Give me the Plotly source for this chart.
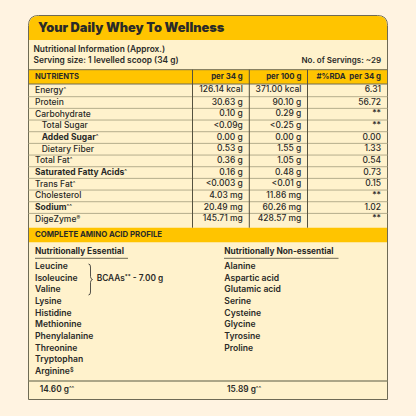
import plotly.graph_objects as go

title = "Your Daily Whey To Wellness"
info_lines = ["Nutritional Information (Approx.)", "Serving size: 1 levelled scoop (34 g)"]
servings = "No. of Servings: ~29"
col_headers = ["NUTRIENTS", "per 34 g", "per 100 g", "#%RDA  per 34 g"]
nutrients = ["Energy^", "Protein", "Carbohydrate", "Total Sugar", "Added Sugar^", "Dietary Fiber", "Total Fat^",
             "Saturated Fatty Acids^", "Trans Fat^", "Cholesterol", "Sodium^^", "DigeZyme®"]
per_34 = ["126.14 kcal", "30.63 g", "0.10 g", "<0.09g", "0.00 g", "0.53 g", "0.36 g", "0.16 g", "<0.003 g",
          "4.03 mg", "20.49 mg", "145.71 mg"]
per_100 = ["371.00 kcal", "90.10 g", "0.29 g", "<0.25 g", "0.00 g", "1.55 g", "1.05 g", "0.48 g", "<0.01 g",
           "11.86 mg", "60.26 mg", "428.57 mg"]
rda = ["6.31", "56.72", "**", "**", "0.00", "1.33", "0.54", "0.73", "0.15", "**", "1.02", "**"]
indented = {"Total Sugar", "Added Sugar^", "Dietary Fiber"}
strong = {"Added Sugar^", "Saturated Fatty Acids^", "Sodium^^"}
amino_title = "COMPLETE AMINO ACID PROFILE"
essential_title = "Nutritionally Essential"
nonessential_title = "Nutritionally Non-essential"
essential = ["Leucine", "Isoleucine", "Valine", "Lysine", "Histidine", "Methionine", "Phenylalanine", "Threonine",
             "Tryptophan", "Arginine$"]
nonessential = ["Alanine", "Aspartic acid", "Glutamic acid", "Serine", "Cysteine", "Glycine", "Tyrosine", "Proline"]
bcaa = "BCAAs** - 7.00 g"
totals = ["14.60 g^^", "15.89 g^^"]

BG, CARD, BAND, INK, EDGE, RULE = "#FFF3E1", "#FFF2CC", "#FFC400", "#2A2A28", "#6E6A55", "#B5AD8C"
FONT = "Inter"
L, R, T, B = 28.5, 387.5, 15.5, 399.5
HEAD_B = 40
BAND1_T, BAND1_B = 69.7, 84
ROW1_B, ROW_H = 96.7, 11.67
BAND2_T, BAND2_B = 227.7, 242.3
VX = [192.5, 249.3, 307.5]
COLX = [242.8, 301.4, 381]
LIST_Y0, LIST_H = 266.7, 11.67
LIST_X = [35, 224.3]


def raised(mark):
    return f'<span style="font-size:5.5px;baseline-shift:2.2px">{mark}</span>'


def sup(s):
    for mark in ("^^", "^", "**", "$", "®"):
        if s.endswith(mark):
            return s[:-len(mark)] + raised(mark)
    return s.replace("BCAAs**", "BCAAs" + raised("**"))


def rect(x0, y0, x1, y1, fill):
    return dict(type="rect", x0=x0, y0=y0, x1=x1, y1=y1, fillcolor=fill, line_width=0, layer="below")


def line(x0, y0, x1, y1, color=RULE, w=1):
    return dict(type="line", x0=x0, y0=y0, x1=x1, y1=y1, line=dict(color=color, width=w), layer="below")


r = 10
shapes = [
    dict(type="path", layer="below", fillcolor=CARD, line=dict(color=EDGE, width=1),
         path=f"M{L},{B} L{L},{T+r} Q{L},{T} {L+r},{T} L{R-r},{T} Q{R},{T} {R},{T+r} L{R},{B} Z"),
    dict(type="path", layer="below", fillcolor=BAND, line_width=0,
         path=f"M{L+.5},{HEAD_B} L{L+.5},{T+r} Q{L+.5},{T+.5} {L+r},{T+.5} L{R-r},{T+.5} Q{R-.5},{T+.5} {R-.5},{T+r} L{R-.5},{HEAD_B} Z"),
    rect(L + .5, BAND1_T, R - .5, BAND1_B, BAND),
    rect(L + .5, BAND2_T, R - .5, BAND2_B, BAND),
]
rows_top = [BAND1_B] + [ROW1_B + i * ROW_H for i in range(len(nutrients))]
for y in rows_top[1:-1]:
    shapes.append(line(L, y, R, y))
shapes.append(line(L, BAND1_T, R, BAND1_T, EDGE))
shapes.append(line(L, BAND1_B, R, BAND1_B, EDGE))
for x in VX:
    shapes.append(line(x, BAND1_T, x, BAND2_T, "#55523F"))
shapes += [line(35, 258.3, 128, 258.3, EDGE), line(224, 258.3, 338.5, 258.3, EDGE),
           line(L, 381, R, 381, "#918C70", 1.5),
           dict(type="path", layer="below", line=dict(color=INK, width=0.8),
                path="M88.5,264 Q90.5,264 90.5,267 L90.5,276.5 Q90.5,279 92.5,279.5 Q90.5,280 90.5,282.5 L90.5,292 Q90.5,295 88.5,295")]

fig = go.Figure()


def txt(xs, ys, texts, pos="middle right", size=8, weight=500, color=INK):
    fig.add_trace(go.Scatter(x=xs, y=ys, text=texts, mode="text", textposition=pos, hoverinfo="skip",
                             cliponaxis=False, showlegend=False,
                             textfont=dict(family=FONT, size=size, color=color, weight=weight)))


centers = [(rows_top[i] + rows_top[i + 1]) / 2 if i + 1 < len(rows_top) else 219.5 for i in range(len(nutrients))]
centers = [c + .3 for c in centers]

txt([38], [29], [title], size=12.8, weight=900)
txt([33.5, 33.5], [49.7, 61.3], info_lines, size=8.4, weight=600)
txt([381], [61.3], [servings], "middle left", size=8, weight=600)
txt([35], [77], [col_headers[0]], size=7.6, weight=700)
txt(COLX, [77] * 3, col_headers[1:], "middle left", size=7.8, weight=700)
txt([41.7 if n in indented else 35 for n in nutrients], centers,
    [f"<b>{sup(n)}</b>" if n in strong else sup(n) for n in nutrients], size=8.5)
for x, vals in zip(COLX, (per_34, per_100, rda)):
    txt([x] * len(vals), [c - .4 for c in centers], vals, "middle left", size=8.5)
txt([35], [235], [amino_title], size=7.8, weight=700)
txt(LIST_X, [251.7, 251.7], [essential_title, nonessential_title], size=8.3, weight=700)
txt([LIST_X[0]] * len(essential), [LIST_Y0 + i * LIST_H for i in range(len(essential))],
    [sup(s) for s in essential], size=8.6, weight=600)
txt([LIST_X[1]] * len(nonessential), [LIST_Y0 + i * LIST_H for i in range(len(nonessential))],
    nonessential, size=8.6, weight=600)
txt([96.7], [279], [sup(bcaa)], size=8.3, weight=600)
txt([39.7, 227], [390.3, 390.3], [sup(t) for t in totals], size=8.3, weight=600)

axis = dict(visible=False, fixedrange=True)
fig.update_layout(width=416, height=416, margin=dict(l=0, r=0, t=0, b=0), paper_bgcolor=BG, plot_bgcolor=BG,
                  xaxis=dict(range=[0, 416], **axis), yaxis=dict(range=[416, 0], **axis), shapes=shapes)
fig.write_html("out.html", config={"displayModeBar": False},
               post_script="document.body.style.margin='0';document.body.style.background='#FFF3E1';")
